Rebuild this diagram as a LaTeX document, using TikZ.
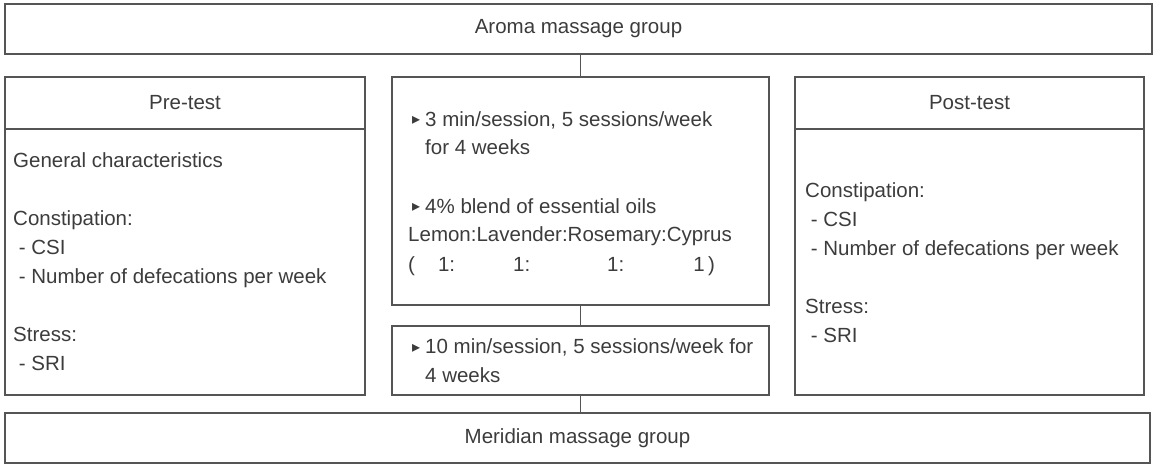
\documentclass[tikz,border=0pt]{standalone}
\usepackage{fontspec}
\setmainfont{Liberation Sans}
\newfontfamily\symf{DejaVu Sans}
\definecolor{ln}{HTML}{555555}
\definecolor{tx}{HTML}{3C3C3C}
\newcommand\bul{\makebox[13pt][l]{\raisebox{1pt}{\symf\fontsize{16}{16}\selectfont ▸}}}
\begin{document}
\begin{tikzpicture}[x=1pt,y=-1pt,
  box/.style={draw=ln,line width=1.4pt,inner sep=0pt,text=tx,font=\fontsize{20.5}{29}\selectfont},
  txt/.style={inner sep=0pt,text=tx,align=left,font=\fontsize{20.5}{29}\selectfont,anchor=base west},
  conn/.style={draw=ln,line width=1.4pt}]
\useasboundingbox (0,0) rectangle (1170,465);
\node[box,minimum width=1147pt,minimum height=50pt] (top) at (578.5,29) {Aroma massage group};
\node[box,minimum width=360pt,minimum height=52pt] (preH) at (185,103) {Pre-test};
\node[box,minimum width=360pt,minimum height=266pt] (preB) at (185,262) {};
\node[box,minimum width=377pt,minimum height=228pt] (mid1) at (580.5,191) {};
\node[box,minimum width=377pt,minimum height=69pt] (mid2) at (580.5,360.5) {};
\node[box,minimum width=349pt,minimum height=52pt] (postH) at (969.5,103) {Post-test};
\node[box,minimum width=349pt,minimum height=266pt] (postB) at (969.5,262) {};
\node[box,minimum width=1145pt,minimum height=50pt] (bot) at (577.5,438) {Meridian massage group};

% anchor base = baseline of the last line
\node[txt] (preT) at (13,370) {General characteristics\\[29pt]
Constipation:\\
\ - CSI\\
\ - Number of defecations per week\\[29pt]
Stress:\\
\ - SRI};

\node[txt] (postT) at (805,342) {Constipation:\\
\ - CSI\\
\ - Number of defecations per week\\[29pt]
Stress:\\
\ - SRI};

\node[txt] (mid1T) at (408,271) {\hspace*{4pt}\bul 3 min/session, 5 sessions/week\\
\hspace*{17pt}for 4 weeks\\[29pt]
\hspace*{4pt}\bul 4\% blend of essential oils\\
Lemon:Lavender:Rosemary:Cyprus\\
(\hspace*{23pt}1:\hspace*{58pt}1:\hspace*{77pt}1:\hspace*{69pt}1\hspace*{3.5pt})};

\node[txt] (mid2T) at (408,382) {\hspace*{4pt}\bul 10 min/session, 5 sessions/week for\\
\hspace*{17pt}4 weeks};

\draw[conn] (mid1.north |- top.south) -- (mid1.north);
\draw[conn] (mid1.south) -- (mid2.north);
\draw[conn] (mid2.south) -- (mid2.south |- bot.north);
\end{tikzpicture}
\end{document}
